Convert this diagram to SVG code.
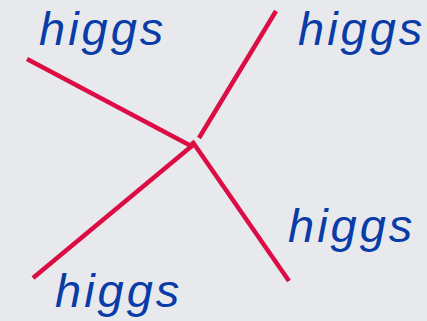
<svg xmlns="http://www.w3.org/2000/svg" width="427" height="321" viewBox="0 0 427 321">
<style>
.lbl{font-family:"Liberation Sans",Arial,sans-serif;font-style:italic;font-size:47px;letter-spacing:3px;fill:#0a3ca8}
.ln{stroke:#dc0d45;stroke-width:4.5;stroke-linecap:butt;fill:none}
</style>
<rect width="427" height="321" fill="#e8e9ed"/>
<g id="connectors">
<line class="ln" x1="27" y1="59" x2="193" y2="147"/>
<line class="ln" x1="276" y1="11" x2="199" y2="138"/>
<line class="ln" x1="33" y1="278" x2="193" y2="145"/>
<line class="ln" x1="192" y1="141" x2="289" y2="281"/>
</g>
<g id="label-tl"><text class="lbl" x="39" y="45">higgs</text></g>
<g id="label-tr"><text class="lbl" x="298" y="45">higgs</text></g>
<g id="label-br"><text class="lbl" x="288" y="242">higgs</text></g>
<g id="label-bl"><text class="lbl" x="55" y="307">higgs</text></g>
</svg>
